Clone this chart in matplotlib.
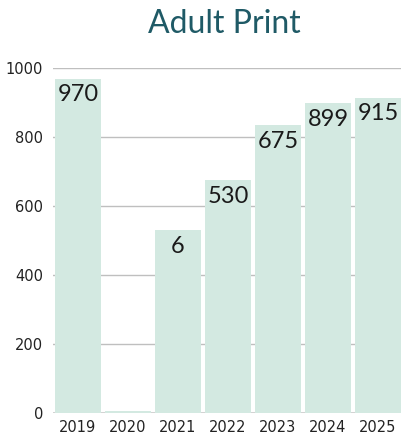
import matplotlib
matplotlib.use('Agg')
import matplotlib.pyplot as plt

years = ['2019', '2020', '2021', '2022', '2023', '2024', '2025']
values = [970, 6, 530, 675, 835, 899, 915]
bar_labels = ['970', '', '6', '530', '675', '899', '915']
yticks = [0, 200, 400, 600, 800, 1000]

fig = plt.figure(figsize=(4.01, 4.42), dpi=100)
ax = fig.add_axes([0.132, 0.0656, 0.868, 0.78])

x = list(range(len(years)))
ax.bar(x, values, width=0.92, color='#d3e9e1', zorder=3)
ax.axhline(0, color='#555555', lw=1, zorder=2)

# value labels just under the top of each bar
for xi, v, lab in zip(x, values, bar_labels):
    ax.annotate(lab, (xi, v), xytext=(0, -4), textcoords='offset points',
                ha='center', va='top', fontsize=17, family='Lato',
                color='#1a1a1a', zorder=4)

ax.set_xlim(-0.5, 6.46)
ax.set_ylim(0, 1000)
ax.set_yticks(yticks)
ax.set_yticklabels([str(t) for t in yticks], fontsize=10.5, family='DejaVu Sans', color='#222222')
ax.set_xticks(x)
ax.set_xticklabels(years, fontsize=10.5, family='DejaVu Sans', color='#222222')
ax.tick_params(axis='both', length=0)
ax.tick_params(axis='y', pad=7)
ax.tick_params(axis='x', pad=5)
ax.grid(axis='y', color='#bfbfbf', lw=1, zorder=1)
for s in ax.spines.values():
    s.set_visible(False)

fig.text(0.56, 0.945, 'Adult Print', ha='center', va='center',
         fontsize=23, family='Lato', color='#1f5a66')

fig.savefig('out.png', dpi=100)
